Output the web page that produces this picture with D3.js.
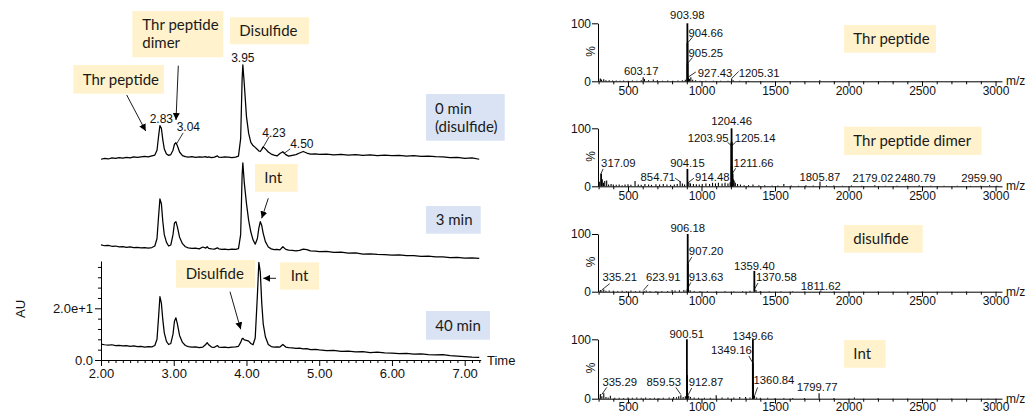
<!DOCTYPE html>
<html><head><meta charset="utf-8">
<script src="https://cdn.jsdelivr.net/npm/d3@7"></script>
<style>body{margin:0;background:#fff}svg{display:block}</style>
</head><body>
<svg id="c" width="1027" height="414"></svg>
<script>
// ---------------- DATA ----------------
// Chromatograms (UV, AU) : retention time (min)
const times = [2.00,2.05,2.10,2.15,2.20,2.25,2.30,2.35,2.40,2.45,2.50,2.55,2.60,2.65,2.70,
  2.74,2.77,2.79,2.81,2.83,2.85,2.87,2.90,2.93,2.96,2.99,
  3.01,3.03,3.05,3.08,3.12,3.16,3.20,3.25,3.30,3.35,3.40,3.44,3.46,3.48,3.52,3.56,3.60,3.62,3.66,3.70,3.75,3.80,3.85,3.89,3.92,3.94,3.95,3.97,
  4.00,4.03,4.06,4.09,4.12,4.15,4.17,4.19,4.21,4.23,4.26,4.30,4.34,4.38,4.42,4.46,4.50,4.54,4.58,4.63,4.68,4.73,4.78,4.83,4.88,4.95,
  5.00,5.10,5.20,5.30,5.40,5.50,5.60,5.70,5.80,5.90,6.00,6.10,6.20,6.30,6.40,6.50,6.60,6.70,6.80,6.90,7.00,7.10,7.20];
const trace0min = [4.0,4.3,4.1,4.5,4.3,4.6,4.4,4.7,4.5,4.9,4.7,4.9,5.1,4.9,5.3,
  5.6,7.5,12.5,17.0,16.0,11.5,8.0,6.0,5.5,5.8,7.5,
  9.8,10.4,9.2,6.8,5.4,5.0,4.8,5.0,4.7,4.9,4.8,5.0,4.7,4.9,4.6,4.8,5.3,4.8,4.7,4.9,4.8,4.6,4.8,5.2,12.0,35.0,40.5,33.0,
  20.5,14.0,10.5,9.3,8.6,7.8,7.2,7.0,7.8,8.8,8.0,6.8,6.0,5.6,5.3,6.2,6.9,5.8,5.2,5.5,5.8,6.4,7.0,6.4,6.0,6.1,
  5.9,6.0,5.7,5.9,5.6,5.8,5.5,5.7,5.4,5.6,5.4,5.5,5.2,5.4,5.1,5.2,5.0,4.9,4.6,4.7,4.3,4.5,4.0];
const trace3min = [6.0,5.7,5.8,5.5,5.6,5.3,5.4,5.1,5.3,5.0,5.1,4.9,5.0,4.8,5.0,
  5.6,8.5,16.5,23.8,22.0,15.0,10.0,7.0,5.6,6.0,10.0,
  14.5,15.0,13.0,9.0,6.5,5.3,4.9,4.7,4.8,4.5,5.2,4.8,5.3,4.7,4.5,4.4,4.9,4.5,4.3,4.4,4.2,4.4,4.3,4.6,10.0,33.0,37.8,30.0,
  22.0,15.5,11.0,8.0,6.3,8.5,12.5,15.0,13.5,10.5,7.3,5.2,4.5,4.2,4.3,4.1,5.3,4.3,4.0,3.9,3.7,3.9,4.4,4.2,3.7,3.6,
  3.4,3.5,3.1,3.2,2.8,2.9,2.5,2.6,2.4,2.3,2.1,2.2,1.9,1.9,1.6,1.7,1.4,1.4,1.1,1.2,0.9,1.0,0.8];
const trace40min = [6.1,5.9,5.8,5.9,5.6,5.7,5.5,5.6,5.3,5.5,5.2,5.3,5.0,5.2,5.1,
  5.6,8.0,16.0,24.5,22.0,15.5,10.5,7.2,6.0,6.4,10.0,
  15.0,16.3,14.0,9.5,6.8,5.6,5.2,5.0,5.1,4.8,5.0,6.0,6.7,5.9,5.0,4.9,5.6,5.0,4.9,5.0,4.8,5.0,5.1,5.3,6.8,8.2,8.4,7.8,
  7.6,7.3,6.4,5.9,8.5,25.0,37.8,34.0,22.0,14.0,9.0,6.0,5.2,5.0,5.1,5.0,6.0,5.0,4.8,4.7,4.5,4.6,4.3,4.4,4.0,4.1,
  3.9,3.6,3.7,3.3,3.4,3.1,3.2,2.9,3.0,2.8,2.7,2.5,2.6,2.3,2.4,2.1,2.0,2.1,1.7,1.5,1.3,1.1,1.0];
const traceNames = ["0 min (disulfide)","3 min","40 min"];
const timeTicks = [2,3,4,5,6,7];
const auTicks = [0,20];
const auTickLabels = ["0.0","2.0e+1"];
const topPeakLabels = ["2.83","3.04","3.95","4.23","4.50"];

// Mass spectra (m/z, relative intensity %)
const thrMz = [300,312,320,335,350,372,395,420,445,470,500,530,560,590,603.17,612,640,672,700,735,770,805,840,870,890,903.98,904.66,905.25,906.1,912,918,927.43,940,960,990,1030,1080,1130,1180,1205.31,1215,1260,1320,1400,1480,1560,1650,1805,1900,2050,2250,2480,2700,2900];
const thrInt = [4,5,3,3.5,2,2,1.5,1.5,1,1.2,1,1.5,1,2,7,4,2,3,2,1,1.5,1,1.5,2,2.5,100,66,31,12,6,4,7,2.5,2,1,1,1,0.8,1,5,2,0.8,0.8,0.6,0.6,0.5,0.5,2,0.5,0.4,0.4,0.4,0.3,0.3];
const dimerMz = [305,317.09,325,333,342,355,368,385,400,420,440,460,480,500,520,548,570,590,615,640,660,690,715,740,765,790,815,835,854.71,870,885,904.15,905,914.48,925,945,965,985,1005,1030,1055,1075,1095,1115,1140,1160,1180,1195,1203.95,1204.46,1205.14,1205.8,1211.66,1216,1222,1230,1245,1265,1290,1320,1350,1390,1430,1480,1520,1560,1610,1660,1710,1760,1805.87,1850,1900,1960,2020,2090,2179.02,2250,2330,2400,2480.79,2560,2650,2740,2830,2900,2959.90,3010];
const dimerInt = [8,22,12,6,9,10,3,4,3,2.5,3,2,3,3.5,2.5,9,3,2.5,4,3,2.5,3.5,3,4,3,2.5,3,4,9,5,3,30,12,6,5,4,3.5,3,4,5,4,6,5,6,5,6,5,7,75,100,77,35,22,12,10,6,4,3,2,2,3,2,2,1.5,1.5,4,1.5,1,2,1.5,8,1.5,1.5,1,1.5,1,2,1,1,1,2,1,1,1,0.8,0.8,2,0.8];
const disMz = [300,312,322,335.21,350,372,400,430,460,490,520,550,580,610,623.91,650,690,730,770,800,820,850,880,895,906.18,907.2,908.2,913.63,925,950,990,1040,1100,1160,1220,1280,1330,1359.4,1360.4,1370.58,1400,1460,1540,1620,1700,1811.62,1900,2000,2200,2500,2800];
const disInt = [2,3,2,4,1.5,2,1.5,1,1.5,1.2,2,1,1.5,1,2,1,1,1,1,3,2,2.5,3,2,100,49,20,3,2,1,1,1,0.8,1,0.8,1,1.5,36,15,3,1,0.8,0.6,0.6,0.5,2,0.5,0.4,0.4,0.3,0.3];
const intMz = [300,312,322,335.29,350,365,380,410,440,470,500,530,560,590,620,650,680,710,740,780,810,830,845,859.53,875,890,900.51,901.5,902.5,912.87,925,950,980,1020,1060,1100,1140,1180,1220,1260,1300,1330,1349.16,1349.66,1350.6,1360.84,1375,1400,1450,1500,1560,1620,1700,1799.77,1900,2040,2200,2400,2700,2950];
const intInt = [5,8,4,9,3,2,5,1.5,1.5,1,2,1.5,2,1.5,2,1,1.5,1,1.5,2,3,2.5,4,6,3,4,100,40,15,5,3,2,1.5,1.5,1.5,6,2,2,2,3,3,2,60,100,30,5,2,1.5,1.5,1,1,1,1,9,1,2,0.6,0.5,0.4,0.4];
const mzTicks = [500,1000,1500,2000,2500,3000];
const pctTicks = [0,100];
const spectrumNames = ["Thr peptide","Thr peptide dimer","disulfide","Int"];

// ---------------- LAYOUT ----------------
const svg = d3.select("#c");
const FA = "'Liberation Sans', Arial, sans-serif";
const FB = "Lato, 'Open Sans', sans-serif";
const YEL = "#FFF2CC", BLU = "#DAE3F3";

svg.append("defs").append("marker").attr("id","ah").attr("viewBox","0 0 10 10")
  .attr("refX",10).attr("refY",5).attr("markerWidth",7).attr("markerHeight",7)
  .attr("markerUnits","userSpaceOnUse").attr("orient","auto")
  .append("path").attr("d","M0,0L10,5L0,10z").attr("fill","#000");

// chromatogram scales
const xT = d3.scaleLinear().domain([2, 7.22]).range([101, 480.7]);
const yA = d3.scaleLinear().domain([0, 20]).range([360, 308.3]);
const offsets = [73.66, 38.5, 0];
const traces = [trace0min, trace3min, trace40min];
const lineGen = d3.line().x(d => xT(d[0])).y(d => yA(d[1]));
traces.forEach((tr, i) => {
  svg.append("path").datum(times.map((t, j) => [t, tr[j] + offsets[i]]))
    .attr("d", lineGen).attr("fill","none").attr("stroke","#000")
    .attr("stroke-width",1.25).attr("stroke-linejoin","round");
});

// axes
function styleAxis(g, fs) {
  g.selectAll("text").attr("font-family", FA).attr("font-size", fs).attr("fill","#111");
  g.selectAll("line,path").attr("stroke","#000");
}
const gx = svg.append("g").attr("transform","translate(0,360)");
gx.call(d3.axisBottom(xT).tickValues(timeTicks).tickFormat(d3.format(".2f")).tickSize(6).tickSizeOuter(0).tickPadding(3));
styleAxis(gx, 13);
const minorT = d3.range(20, 73).map(v => v / 10).filter(v => Math.abs(v - Math.round(v)) > 1e-6);
const gxm = svg.append("g").attr("transform","translate(0,360)")
  .call(d3.axisBottom(xT).tickValues(minorT).tickSize(3).tickFormat(""));
gxm.select(".domain").remove(); styleAxis(gxm, 13);

const yAx = d3.scaleLinear().domain([0, 38.3]).range([yA(0), yA(38.3)]);
const gy = svg.append("g").attr("transform","translate(101,0)");
gy.call(d3.axisLeft(yAx).tickValues(auTicks).tickFormat((d, i) => auTickLabels[i]).tickSize(6).tickSizeOuter(0).tickPadding(2));
styleAxis(gy, 13);
const minorA = d3.range(4, 38.3, 4).filter(v => v % 20 !== 0);
const gym = svg.append("g").attr("transform","translate(101,0)")
  .call(d3.axisLeft(yAx).tickValues(minorA).tickSize(3).tickFormat(""));
gym.select(".domain").remove(); styleAxis(gym, 13);

svg.append("text").attr("x", 487).attr("y", 364.5).text("Time")
  .attr("font-family", FA).attr("font-size", 13).attr("fill","#111");
svg.append("text").attr("transform","translate(25,309) rotate(-90)").attr("text-anchor","middle").text("AU")
  .attr("font-family", FA).attr("font-size", 13).attr("fill","#111");

// peak labels on 0 min trace
const topLayout = [
  {a:"middle", dx:0, lv:18.2, ld:null},
  {a:"start", dx:0, lv:14.8, ld:[0,10,6.5,14.2]},
  {a:"middle", dx:0, lv:41.7, ld:null},
  {a:"start", dx:-1, lv:12.8, ld:[-1,8,6,12.7]},
  {a:"start", dx:7.3, lv:8.4, ld:[1,6.2,7.3,8]}
];
topPeakLabels.forEach((s, i) => {
  const L = topLayout[i], t = +s, px = xT(t);
  svg.append("text").attr("x", px + L.dx).attr("y", yA(L.lv + offsets[0])).attr("text-anchor", L.a)
    .text(s).attr("font-family", FA).attr("font-size", 12).attr("fill","#111");
  if (L.ld) svg.append("line").attr("x1", px + L.ld[0]).attr("y1", yA(L.ld[1] + offsets[0]))
    .attr("x2", px + L.ld[2]).attr("y2", yA(L.ld[3] + offsets[0])).attr("stroke","#000").attr("stroke-width",0.8);
});

// annotation boxes
function box(x, y, w, h, fill, lines, tx, tys) {
  svg.append("rect").attr("x", x).attr("y", y).attr("width", w).attr("height", h).attr("fill", fill);
  lines.forEach((l, i) => svg.append("text").attr("x", tx).attr("y", tys[i]).text(l)
    .attr("font-family", FB).attr("font-size", 15).attr("fill","#1a1a1a"));
}
box(73.3, 65, 90.7, 28.7, YEL, ["Thr peptide"], 82.7, [84.6]);
box(132.3, 11, 91, 46.3, YEL, ["Thr peptide","dimer"], 142.3, [30, 48.3]);
box(230, 17.3, 79, 27, YEL, ["Disulfide"], 239.3, [36.1]);
box(426, 94, 78.7, 46.7, BLU, ["0 min","(disulfide)"], 435, [113.5, 132]);
box(255, 164, 42.7, 27.7, YEL, ["Int"], 264.3, [183.1]);
box(426, 206, 54.7, 27.7, BLU, ["3 min"], 435.7, [225.1]);
box(176, 260, 79, 27.7, YEL, ["Disulfide"], 185.7, [279.1]);
box(280, 262.3, 39, 27.4, YEL, ["Int"], 290.7, [281.3]);
box(426, 311, 64, 28.7, BLU, ["40 min"], 435.3, [330.6]);

function arrow(x1, y1, x2, y2) {
  svg.append("line").attr("x1", x1).attr("y1", y1).attr("x2", x2).attr("y2", y2)
    .attr("stroke","#000").attr("stroke-width",0.9).attr("marker-end","url(#ah)");
}
arrow(126.7, 95, 145.7, 131);
arrow(178.3, 65.7, 176, 120);
arrow(268.3, 198.3, 261.7, 218.3);
arrow(230, 291.7, 240.7, 329.3);
arrow(276, 278.3, 263.3, 278.3);

// ---------------- SPECTRA ----------------
const xM = d3.scaleLinear().domain([296, 3044]).range([598, 1002]);
const panels = [
  {mz: thrMz, it: thrInt, y0: 81.3, h: 58, lab: 13, bx: [844, 25, 92, 27.7],
   ann: [["903.98","middle",0,107,null],["904.66","start",1,77,[0,66,5,76]],["905.25","start",1,42,[0,31,5,41]],
         ["927.43","start",7,8,[-2,8,5,16]],["1205.31","start",7,8,[0,5,7,17]],["603.17","middle",-2,11,null]]},
  {mz: dimerMz, it: dimerInt, y0: 186.3, h: 58, lab: 13, bx: [844, 126.7, 137.7, 28.3],
   ann: [["1204.46","middle",0,106,null],["1203.95","end",-3,77,[0,70,-4,76]],["1205.14","start",3,77,[0,70,4,76]],
         ["1211.66","start",1,33,[-1,20,3,31]],["904.15","middle",0,33,null],["854.71","end",-5,10,[0,8,-5,14]],
         ["914.48","start",6,10,[-1,6,5,14]],["317.09","start",0,33,[0,22,2,30]],["1805.87","middle",0,10,null],
         ["2179.02","middle",-2,7,null],["2480.79","middle",-4,7,null],["2959.90","middle",-8,7,null]]},
  {mz: disMz, it: disInt, y0: 291.7, h: 57.7, lab: 13, bx: [844, 225, 78.7, 27.7],
   ann: [["906.18","middle",0,104,null],["907.20","start",1,63,[0,49,4,60]],["913.63","start",0,19,[-2,3,2,16]],
         ["1359.40","middle",0,38,null],["1370.58","start",0,18,[-2,3,2,15]],["335.21","middle",16,18,[-2,3,6,14]],
         ["623.91","middle",17,18,[-3,2,2,12]],["1811.62","middle",0,3,null]]},
  {mz: intMz, it: intInt, y0: 398.7, h: 59.4, lab: 11.5, bx: [844, 340, 41.7, 27.7],
   ann: [["900.51","middle",0,103,null],["1349.66","middle",0,99,null],["1349.16","end",-1,75,[0,60,-4,72]],
         ["912.87","start",0,21,[-1,5,3,18]],["335.29","middle",16,22,[-2,7,3,19]],["859.53","middle",-17,21,[0,7,-5,19]],
         ["1360.84","start",-1,24,[0,5,3,19]],["1799.77","middle",-2,13,null]]}
];
const minorM = d3.range(300, 3001, 100).filter(v => v % 500 !== 0);
panels.forEach((P, pi) => {
  const yP = d3.scaleLinear().domain([0, 100]).range([P.y0, P.y0 - P.h]);
  const g = svg.append("g");
  // sticks
  g.selectAll("line.stick").data(P.mz.map((m, i) => [m, P.it[i]])).join("line")
    .attr("x1", d => xM(d[0])).attr("x2", d => xM(d[0]))
    .attr("y1", yP(0)).attr("y2", d => yP(d[1]))
    .attr("stroke","#000").attr("stroke-width", d => d[1] > 15 ? 1.8 : 1.1);
  // x axis
  const ax = g.append("g").attr("transform", `translate(0,${P.y0})`)
    .call(d3.axisBottom(xM).tickValues(mzTicks).tickFormat(d3.format("d")).tickSize(5).tickSizeOuter(0).tickPadding(P.lab - 13));
  styleAxis(ax, 12);
  const axm = g.append("g").attr("transform", `translate(0,${P.y0})`)
    .call(d3.axisBottom(xM).tickValues(minorM).tickSize(3).tickFormat(""));
  axm.select(".domain").remove(); styleAxis(axm, 12);
  // y axis
  const ay = g.append("g").attr("transform","translate(598,0)")
    .call(d3.axisLeft(yP).tickValues(pctTicks).tickFormat(d3.format("d")).tickSize(6).tickSizeOuter(0).tickPadding(1));
  styleAxis(ay, 12);
  g.append("text").attr("transform", `translate(594.5,${P.y0 - P.h / 2 - 1}) rotate(-90)`).attr("text-anchor","middle")
    .text("%").attr("font-family", FA).attr("font-size", 12).attr("fill","#111");
  g.append("text").attr("x", 1006).attr("y", P.y0 + 4).text("m/z")
    .attr("font-family", FA).attr("font-size", 12).attr("fill","#111");
  // annotations
  P.ann.forEach(a => {
    const px = xM(+a[0]);
    g.append("text").attr("x", px + a[2]).attr("y", yP(a[3])).attr("text-anchor", a[1]).text(a[0])
      .attr("font-family", FA).attr("font-size", 11.3).attr("fill","#111");
    if (a[4]) g.append("line").attr("x1", px + a[4][0]).attr("y1", yP(a[4][1]))
      .attr("x2", px + a[4][2]).attr("y2", yP(a[4][3])).attr("stroke","#000").attr("stroke-width",0.8);
  });
  // name box
  const b = P.bx;
  g.append("rect").attr("x", b[0]).attr("y", b[1]).attr("width", b[2]).attr("height", b[3]).attr("fill", YEL);
  g.append("text").attr("x", b[0] + 9.3).attr("y", b[1] + b[3] / 2 + 5.3).text(spectrumNames[pi])
    .attr("font-family", FB).attr("font-size", 15).attr("fill","#1a1a1a");
});
</script>
</body></html>
